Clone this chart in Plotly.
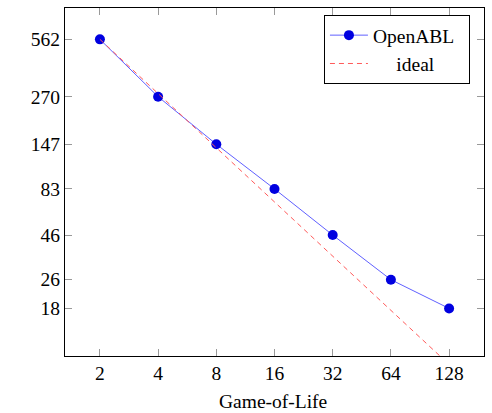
import plotly.graph_objects as go

# Game-of-Life scaling: runtime vs. number of processes (log-log)
procs = [2, 4, 8, 16, 32, 64, 128]
openabl_time = [562, 270, 147, 83, 46, 26, 18]
ideal_time = [openabl_time[0] * procs[0] / p for p in procs]

y_ticks = [18, 26, 46, 83, 147, 270, 562]
x_ticks = procs

font_family = "Liberation Serif"

fig = go.Figure()
fig.add_trace(go.Scatter(
    x=procs, y=openabl_time, name="OpenABL\u2007", mode="lines+markers",
    line=dict(color="#6060ff", width=1),
    marker=dict(color="#0000e0", size=10, line=dict(width=0)),
))
fig.add_trace(go.Scatter(
    x=procs, y=ideal_time, name="\u2007\u2007\u2009ideal", mode="lines",
    line=dict(color="#ff5a5a", width=1, dash="5px,4px"),
))

axis_common = dict(
    showline=True, linecolor="black", linewidth=1, mirror="ticks",
    ticks="inside", ticklen=7, tickcolor="#999999", tickwidth=1,
    showgrid=False, zeroline=False, automargin=False,
    tickfont=dict(family=font_family, size=19.5, color="black"),
)

fig.update_xaxes(
    type="log", range=[0.1204, 2.2878],
    tickvals=x_ticks, ticktext=[str(v) for v in x_ticks],
    **axis_common,
)
fig.update_yaxes(
    type="log", range=[0.991, 2.924],
    tickvals=y_ticks, ticktext=[str(v) for v in y_ticks],
    **axis_common,
)

fig.add_annotation(
    text="Game-of-Life", xref="paper", yref="paper",
    x=0.497, y=-0.132, xanchor="center", yanchor="middle", showarrow=False,
    font=dict(family=font_family, size=19.5, color="black"),
)

fig.update_layout(
    width=492, height=413,
    margin=dict(l=65, r=8, t=8, b=57),
    plot_bgcolor="white", paper_bgcolor="white",
    showlegend=True,
    legend=dict(
        x=0.618, y=0.98, xanchor="left", yanchor="top",
        bordercolor="black", borderwidth=1, bgcolor="white",
        font=dict(family=font_family, size=19.5, color="black"),
        itemwidth=38, tracegroupgap=0,
    ),
)

fig.write_html("out.html")
